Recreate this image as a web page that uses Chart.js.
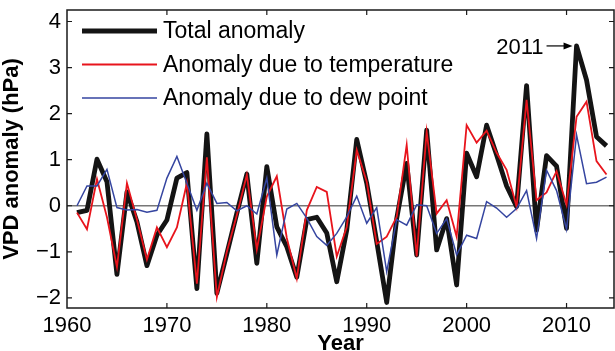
<!DOCTYPE html>
<html>
<head>
<meta charset="utf-8">
<script src="https://cdn.jsdelivr.net/npm/chart.js@4/dist/chart.umd.min.js"></script>
<style>
html,body{margin:0;padding:0;background:#fff;}
#wrap{width:615px;height:351px;position:relative;}
</style>
</head>
<body>
<div id="wrap"><canvas id="c" width="615" height="351"></canvas></div>
<script>
const years = [];
for (let y = 1961; y <= 2014; y++) years.push(y);

const totalAnomaly = [
  -0.15, -0.10, 1.01, 0.52, -1.49, 0.30, -0.35, -1.30, -0.64, -0.31,
  0.60, 0.72, -1.80, 1.56, -1.90, -1.04, -0.16, 0.69, -1.25, 0.85,
  -0.46, -0.89, -1.55, -0.30, -0.25, -0.59, -1.65, -0.53, 1.44, 0.49,
  -0.78, -2.10, -0.28, 0.92, -1.07, 1.64, -0.96, -0.28, -1.72, 1.14,
  0.63, 1.75, 1.10, 0.43, -0.02, 2.61, -0.53, 1.09, 0.86, -0.49,
  3.47, 2.73, 1.50, 1.30
];
const tempAnomaly = [
  -0.15, -0.51, 0.58, -0.25, -1.33, 0.49, -0.30, -1.17, -0.47, -0.90,
  -0.47, 0.49, -1.69, 1.05, -1.98, -1.00, -0.20, 0.67, -0.95, 0.20,
  0.64, -0.70, -1.58, -0.10, 0.41, 0.30, -1.10, -0.46, 1.21, 0.52,
  -0.83, -0.67, -0.24, 1.32, -1.10, 1.61, -0.17, 0.12, -0.67, 1.75,
  1.37, 1.63, 1.15, 0.78, -0.02, 2.30, 0.12, 0.29, 0.75, 0.02,
  1.93, 2.26, 0.97, 0.68
];
const dewAnomaly = [
  0.00, 0.43, 0.43, 0.79, -0.04, -0.09, -0.08, -0.14, -0.10, 0.60,
  1.07, 0.49, -0.10, 0.49, 0.05, 0.07, -0.11, 0.00, -0.18, 0.60,
  -1.07, -0.07, 0.05, -0.27, -0.67, -0.86, -0.60, -0.24, 0.21, -0.38,
  -0.04, -1.43, -0.30, -0.42, 0.02, 0.00, -0.60, -0.28, -1.07, -0.64,
  -0.71, 0.09, -0.05, -0.25, -0.06, 0.33, -0.71, 0.77, 0.33, -0.51,
  1.54, 0.48, 0.51, 0.62
];
const seriesNames = ["Total anomaly", "Anomaly due to temperature", "Anomaly due to dew point"];
const xTicks = [1960, 1970, 1980, 1990, 2000, 2010];
const yTicks = [-2, -1, 0, 1, 2, 3, 4];
const annotationYear = 2011;
const annotationText = "2011";

const COL_BLACK = "#141414";
const COL_RED = "#e8141c";
const COL_BLUE = "#3545a0";
const FONT = "'Liberation Sans', Arial, Helvetica, sans-serif";

const toPts = arr => arr.map((v, i) => ({x: years[i], y: v}));

const framePlugin = {
  id: 'frame',
  beforeDatasetsDraw(chart) {
    const {ctx, chartArea: a, scales} = chart;
    const y0 = scales.y.getPixelForValue(0);
    ctx.save();
    ctx.strokeStyle = "#777";
    ctx.lineWidth = 1.6;
    ctx.beginPath();
    ctx.moveTo(a.left, y0); ctx.lineTo(a.right, y0);
    ctx.stroke();
    ctx.restore();
  },
  afterDatasetsDraw(chart) {
    const {ctx, chartArea: a, scales} = chart;
    ctx.save();
    ctx.strokeStyle = "#1a1a1a";
    ctx.lineWidth = 1.5;
    ctx.strokeRect(a.left, a.top, a.right - a.left, a.bottom - a.top);
    const tl = 5;
    ctx.lineWidth = 1.2;
    ctx.beginPath();
    xTicks.forEach(t => {
      const px = scales.x.getPixelForValue(t);
      if (px <= a.left + 1 || px >= a.right - 1) return;
      ctx.moveTo(px, a.bottom); ctx.lineTo(px, a.bottom - tl);
      ctx.moveTo(px, a.top); ctx.lineTo(px, a.top + tl);
    });
    yTicks.forEach(t => {
      const py = scales.y.getPixelForValue(t);
      ctx.moveTo(a.left, py); ctx.lineTo(a.left + tl, py);
      ctx.moveTo(a.right, py); ctx.lineTo(a.right - tl, py);
    });
    ctx.stroke();

    // legend
    const ds = chart.data.datasets;
    const legX0 = a.left + 15, legX1 = a.left + 90, textX = a.left + 96;
    const rowY = [a.top + 21, a.top + 54.5, a.top + 88];
    ctx.font = "23px " + FONT;
    ctx.textBaseline = "middle";
    ctx.textAlign = "left";
    [0, 1, 2].forEach(r => {
      const d = ds[r];
      ctx.strokeStyle = d.borderColor;
      ctx.lineWidth = d.borderWidth;
      ctx.beginPath();
      ctx.moveTo(legX0, rowY[r]); ctx.lineTo(legX1, rowY[r]);
      ctx.stroke();
      ctx.fillStyle = "#000";
      ctx.fillText(d.label, textX, rowY[r] + 1);
    });

    // annotation arrow
    const idx = years.indexOf(annotationYear);
    const px = scales.x.getPixelForValue(annotationYear);
    const py = scales.y.getPixelForValue(totalAnomaly[idx]);
    const tipX = px - 4;
    const startX = px - 30;
    ctx.strokeStyle = "#000";
    ctx.lineWidth = 1.2;
    ctx.beginPath();
    ctx.moveTo(startX, py); ctx.lineTo(tipX - 6, py);
    ctx.stroke();
    ctx.fillStyle = "#000";
    ctx.beginPath();
    ctx.moveTo(tipX, py);
    ctx.lineTo(tipX - 9, py - 3.5);
    ctx.lineTo(tipX - 9, py + 3.5);
    ctx.closePath();
    ctx.fill();
    ctx.font = "22px " + FONT;
    ctx.textAlign = "right";
    ctx.textBaseline = "middle";
    ctx.fillText(annotationText, startX - 3, py + 2);
    ctx.restore();
  }
};

new Chart(document.getElementById('c'), {
  type: 'line',
  data: {
    datasets: [
      {label: seriesNames[0], data: toPts(totalAnomaly), borderColor: COL_BLACK, borderWidth: 4.8, order: 3, borderJoinStyle: 'round'},
      {label: seriesNames[1], data: toPts(tempAnomaly), borderColor: COL_RED, borderWidth: 1.8, order: 2},
      {label: seriesNames[2], data: toPts(dewAnomaly), borderColor: COL_BLUE, borderWidth: 1.5, order: 1}
    ]
  },
  options: {
    responsive: false,
    animation: false,
    devicePixelRatio: 1,
    layout: {padding: {left: 0, right: 1, top: 10, bottom: 0}},
    elements: {point: {radius: 0}, line: {tension: 0, fill: false}},
    plugins: {legend: {display: false}, tooltip: {enabled: false}},
    scales: {
      x: {
        type: 'linear',
        min: 1960, max: 2014.75,
        afterFit(s) { s.height = 43; s.paddingLeft = 0; s.paddingRight = 0; },
        afterBuildTicks(s) { s.ticks = xTicks.map(v => ({value: v})); },
        grid: {display: false, drawTicks: false},
        border: {display: false},
        ticks: {color: "#000", font: {family: FONT, size: 22}, padding: 5, maxRotation: 0, autoSkip: false, callback: v => String(v)},
        title: {display: true, text: "Year", color: "#000", font: {family: FONT, size: 22, weight: 'bold', lineHeight: 0.6}, padding: {top: 0, bottom: 0}}
      },
      y: {
        min: -2.22, max: 4.25,
        afterFit(s) { s.width = 67; s.paddingTop = 0; s.paddingBottom = 0; },
        afterBuildTicks(s) { s.ticks = yTicks.map(v => ({value: v})); },
        grid: {display: false, drawTicks: false},
        border: {display: false},
        ticks: {color: "#000", font: {family: FONT, size: 22}, padding: 6, autoSkip: false, callback: v => (v < 0 ? "\u2212" + Math.abs(v) : String(v))},
        title: {display: true, text: "VPD anomaly (hPa)", color: "#000", font: {family: FONT, size: 22, weight: 'bold', lineHeight: 1.1}, padding: {top: 0, bottom: 0}}
      }
    }
  },
  plugins: [framePlugin]
});
</script>
</body>
</html>
